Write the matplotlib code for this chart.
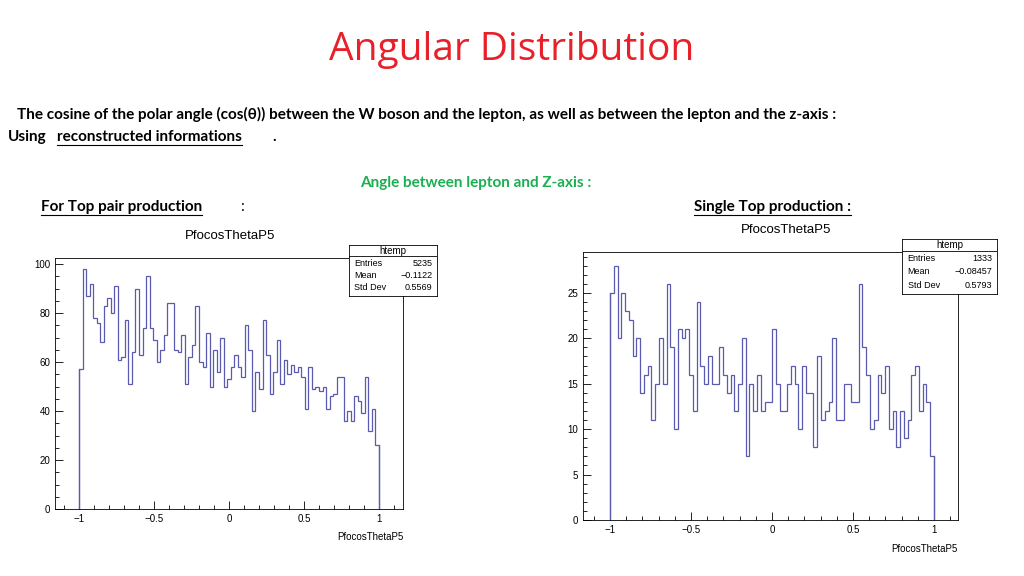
import numpy as np
import matplotlib.pyplot as plt
from matplotlib.ticker import MultipleLocator

# bin contents (bins spread evenly over [-1, 1])
ttbar_counts = [57, 98, 87, 92, 78, 76, 68, 83, 86, 80, 91, 61, 62, 77, 51, 64, 90, 63, 74, 95,
                74, 69, 60, 65, 71, 84, 84, 65, 64, 71, 51, 62, 67, 83, 60, 58, 72, 50, 65, 56,
                70, 50, 53, 58, 63, 58, 54, 75, 65, 40, 56, 49, 77, 63, 47, 56, 69, 51, 61, 55,
                59, 56, 58, 54, 41, 58, 49, 50, 48, 50, 41, 46, 47, 54, 54, 36, 40, 36, 46, 44,
                39, 54, 32, 41, 26]
single_counts = [25, 28, 20, 25, 23, 22, 18, 20, 14, 16, 17, 11, 15, 20, 15, 26, 19, 10, 21, 20,
                 21, 16, 12, 24, 17, 15, 18, 15, 15, 19, 16, 14, 16, 12, 15, 20, 7, 15, 12, 16,
                 12, 13, 13, 21, 15, 12, 12, 15, 17, 15, 10, 17, 14, 14, 8, 18, 11, 12, 13, 20,
                 11, 11, 15, 15, 13, 13, 26, 19, 16, 10, 11, 16, 14, 17, 10, 12, 8, 12, 9, 11,
                 16, 17, 12, 15, 13, 7]
ttbar_stats = ["5235", "\u22120.1122", "0.5569"]
single_stats = ["1333", "\u22120.08457", "0.5793"]

plt.rcParams['font.family'] = ['Liberation Sans', 'DejaVu Sans']
fig = plt.figure(figsize=(10.24, 5.76), dpi=100)
W, H = 1024, 576
line_col = '#5a5aae'
body = ['Lato', 'DejaVu Sans']


def px_axes(x0, y0, x1, y1):
    return fig.add_axes([x0 / W, 1 - y1 / H, (x1 - x0) / W, (y1 - y0) / H])


def root_hist(box, counts, xlim, ylim, ymajor, yminor, stats, sbox, title_xy):
    ax = px_axes(*box)
    edges = np.linspace(-1, 1, len(counts) + 1)
    ax.stairs(counts, edges, color=line_col, lw=0.9)
    ax.plot([-1, -1], [0, counts[0]], color=line_col, lw=0.9)
    ax.plot([1, 1], [0, counts[-1]], color=line_col, lw=0.9)
    ax.set_xlim(*xlim)
    ax.set_ylim(*ylim)
    ax.xaxis.set_minor_locator(MultipleLocator(0.1))
    ax.yaxis.set_major_locator(MultipleLocator(ymajor))
    ax.yaxis.set_minor_locator(MultipleLocator(yminor))
    ax.set_xticks([-1, -0.5, 0, 0.5, 1], ["\u22121", "\u22120.5", "0", "0.5", "1"])
    ax.tick_params(which='both', direction='in', labelsize=7, width=0.6)
    ax.tick_params(which='major', length=6)
    ax.tick_params(which='minor', length=3)
    for s in ax.spines.values():
        s.set_linewidth(0.6)
    ax.text(1, -0.09, "PfocosThetaP5", transform=ax.transAxes, ha='right', va='top', fontsize=7)
    fig.text(title_xy[0] / W, 1 - title_xy[1] / H, "PfocosThetaP5",
             ha='center', va='center', fontsize=9.5)
    # stats box
    sx = px_axes(*sbox)
    sx.set_xticks([])
    sx.set_yticks([])
    for s in sx.spines.values():
        s.set_linewidth(0.6)
    sx.axhline(0.78, color='k', lw=0.6)
    sx.text(0.5, 0.89, "htemp", ha='center', va='center', fontsize=7)
    for i, name in enumerate(["Entries", "Mean", "Std Dev"]):
        yy = 0.64 - i * 0.24
        sx.text(0.06, yy, name, ha='left', va='center', fontsize=6.5)
        sx.text(0.95, yy, stats[i], ha='right', va='center', fontsize=6.5)
    return ax


root_hist((55, 258, 403, 509), ttbar_counts, (-1.16, 1.16), (0, 102.5), 20, 5,
          ttbar_stats, (349, 245, 437, 296), (230, 236))
root_hist((583, 252, 958, 520), single_counts, (-1.167, 1.148), (0, 29.5), 5, 1,
          single_stats, (902, 239, 997, 294), (786, 230))

fig.text(0.5, 1 - 50 / H, "Angular Distribution", ha='center', va='center',
         fontsize=28, color='#e8202a', family=['Open Sans', 'DejaVu Sans'])


def line(x, y, s, under=False, **kw):
    kw.setdefault('fontweight', 'bold')
    t = fig.text(x / W, 1 - y / H, s, ha='left', va='center', fontsize=11,
                 family=body, **kw)
    if under:
        fig.canvas.draw()
        bb = t.get_window_extent()
        fig.add_artist(plt.Line2D([bb.x0 / W, bb.x1 / W], [(bb.y0 - 1) / H] * 2,
                                  color='k', lw=0.8))
    return t


line(17, 114, "The cosine of the polar angle (cos(\u03b8)) between the W boson and the lepton, "
     "as well as between the lepton and the z-axis :")
line(8, 137, "Using")
line(57, 137, "reconstructed informations", under=True)
line(272, 137, ".")
fig.text(476 / W, 1 - 183 / H, "Angle between lepton and Z-axis :", ha='center', va='center',
         fontsize=11, fontweight='bold', color='#1aaf50', family=body)
line(41, 207, "For Top pair production", under=True)
line(240, 207, ":", fontweight='normal')
line(694, 207, "Single Top production :", under=True)

fig.savefig("out.png", dpi=100)
